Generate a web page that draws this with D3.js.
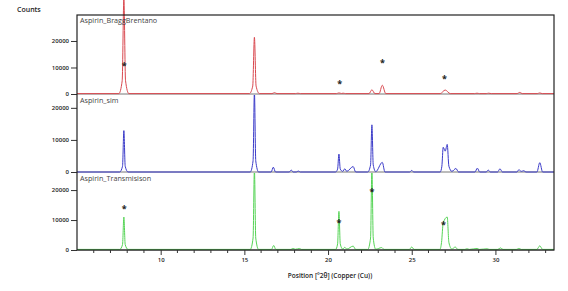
<!DOCTYPE html>
<html>
<head>
<meta charset="utf-8">
<script src="https://cdn.jsdelivr.net/npm/d3@7"></script>
<style>
  body { margin: 0; background: #fff; }
  svg { display: block; font-family: "Open Sans", "Noto Sans", sans-serif; }
</style>
</head>
<body>
<svg id="chart" width="568" height="291"></svg>
<script>
// 2theta / counts pairs (peak tops with their feet)
const braggBrentano = [
  [5, 150], [7.5, 150], [7.7, 5000], [7.8, 36000], [7.9, 5000], [8.1, 150],
  [15.3, 150], [15.5, 3000], [15.6, 21400], [15.7, 3000], [15.9, 150],
  [16.65, 150], [16.8, 500], [16.95, 150], [18.05, 150], [18.2, 300], [18.35, 150],
  [20.5, 150], [20.65, 400], [20.8, 200], [20.9, 300], [21.05, 150],
  [22.45, 150], [22.62, 1600], [22.8, 150], [23.05, 150], [23.24, 3300], [23.45, 150],
  [26.7, 150], [27.0, 1500], [27.3, 150], [28.75, 150], [28.9, 300], [29.05, 150],
  [29.45, 150], [29.6, 300], [29.75, 150], [31.3, 150], [31.45, 600], [31.6, 150],
  [32.5, 150], [32.65, 400], [32.8, 150], [33.5, 150]
];
const simulated = [
  [5, 0], [7.55, 0], [7.72, 1800], [7.8, 12900], [7.88, 1800], [8.05, 0],
  [15.35, 0], [15.52, 3500], [15.6, 25000], [15.68, 3500], [15.85, 0],
  [16.6, 0], [16.73, 1500], [16.86, 0], [17.68, 0], [17.8, 600], [17.92, 0], [18.1, 0], [18.22, 300], [18.34, 0],
  [20.45, 0], [20.57, 900], [20.65, 5600], [20.73, 900], [20.88, 200], [21.0, 1000], [21.12, 200], [21.5, 1700], [21.65, 0],
  [22.37, 0], [22.54, 2200], [22.62, 14700], [22.7, 2200], [22.85, 100], [23.24, 3000], [23.4, 0],
  [24.88, 0], [25.0, 500], [25.12, 0], [26.7, 0], [26.8, 1800], [26.88, 7700], [27.0, 6500], [27.12, 8600], [27.22, 1800], [27.4, 200],
  [27.64, 1100], [27.8, 0], [28.78, 0], [28.92, 1200], [29.06, 0], [29.45, 0], [29.57, 600], [29.7, 0],
  [30.13, 0], [30.27, 1000], [30.42, 0], [31.28, 0], [31.4, 700], [31.55, 200], [31.7, 400], [31.82, 0],
  [32.48, 0], [32.65, 2900], [32.82, 0], [33.5, 0]
];
const transmission = [
  [5, 200], [7.55, 200], [7.72, 1800], [7.8, 11000], [7.88, 1800], [8.05, 200],
  [15.35, 200], [15.52, 4000], [15.6, 27000], [15.68, 4000], [15.85, 200],
  [16.62, 200], [16.75, 1500], [16.88, 200], [17.78, 200], [17.9, 500], [18.05, 250], [18.3, 500], [18.42, 200],
  [20.45, 200], [20.57, 2000], [20.65, 12900], [20.73, 2000], [20.88, 300], [21.0, 900], [21.12, 300], [21.5, 1300], [21.65, 200],
  [22.37, 200], [22.54, 4000], [22.62, 27000], [22.7, 4000], [22.85, 250], [23.2, 800], [23.35, 200],
  [24.86, 200], [25.0, 1000], [25.14, 200], [26.68, 200], [26.78, 2500], [26.88, 9000], [27.12, 11000], [27.22, 2500], [27.4, 300],
  [27.6, 1000], [27.75, 200], [28.17, 200], [28.3, 400], [28.45, 200], [28.9, 500], [29.05, 200], [29.5, 400], [29.65, 200],
  [30.15, 200], [30.3, 700], [30.45, 200], [31.25, 200], [31.4, 500], [31.55, 200],
  [32.48, 200], [32.65, 1400], [32.82, 200], [33.5, 200]
];

const seriesNames = ["Aspirin_BraggBrentano", "Aspirin_sim", "Aspirin_Transmisison"];
const seriesColors = ["#d9484f", "#3b3bc9", "#55d455"];
const seriesData = [braggBrentano, simulated, transmission];
const yMax = [29800, 24000, 25700];
const yTicks = [0, 10000, 20000];

// asterisk marks (2theta, counts) in the first and last panel
const starsTop = [[7.82, 11300], [20.7, 4500], [23.25, 12450], [26.95, 6400]];
const starsBottom = [[7.82, 14400], [20.65, 9800], [22.62, 20100], [26.9, 9100]];
const starsByPanel = [starsTop, [], starsBottom];

const xMajor = [10, 15, 20, 25, 30];
const xMinor = [6, 7, 8, 9, 11, 12, 13, 14, 16, 17, 18, 19, 21, 22, 23, 24, 26, 27, 28, 29, 31, 32, 33];

const svg = d3.select("#chart");
const plotLeft = 77, plotRight = 554, plotTop = 15;
const panelBottoms = [94, 172, 250];
const panelTops = [15, 95, 173];

const x = d3.scaleLinear().domain([5, 33.5]).range([plotLeft, plotRight]);

svg.append("text")
  .attr("x", 17).attr("y", 12)
  .style("font-size", "7px").style("font-weight", 600).attr("fill", "#222")
  .text("Counts");

seriesData.forEach((data, i) => {
  const y = d3.scaleLinear().domain([0, yMax[i]]).range([panelBottoms[i], panelTops[i]]);
  const g = svg.append("g");

  if (i > 0) {
    svg.append("clipPath").attr("id", "clip" + i)
      .append("rect")
      .attr("x", plotLeft).attr("y", panelTops[i])
      .attr("width", plotRight - plotLeft).attr("height", panelBottoms[i] - panelTops[i] + 2);
  }

  g.append("line")
    .attr("x1", plotLeft).attr("x2", plotRight)
    .attr("y1", y(0)).attr("y2", y(0))
    .attr("stroke", "#777").attr("stroke-width", 1);

  const line = d3.line()
    .x(d => x(d[0]))
    .y(d => y(d[1]))
    .curve(d3.curveMonotoneX);

  g.append("path")
    .datum(data)
    .attr("fill", "none")
    .attr("stroke", seriesColors[i])
    .attr("stroke-width", 1)
    .attr("clip-path", i > 0 ? "url(#clip" + i + ")" : null)
    .attr("d", line);

  g.append("text")
    .attr("x", plotLeft + 3).attr("y", panelTops[i] + 8)
    .style("font-size", "7.2px").attr("fill", "#444")
    .text(seriesNames[i]);

  g.selectAll(".star")
    .data(starsByPanel[i])
    .enter().append("text")
    .attr("x", d => x(d[0]))
    .attr("y", d => y(d[1]) + 5)
    .attr("text-anchor", "middle")
    .style("font-size", "9px").style("font-weight", 700)
    .attr("fill", "#222")
    .text("*");

  const ax = svg.append("g")
    .attr("transform", "translate(" + plotLeft + ",0)")
    .call(d3.axisLeft(y).tickValues(yTicks).tickSize(6).tickPadding(2).tickFormat(d3.format("d")));
  ax.select(".domain").remove();
  ax.selectAll("line").attr("stroke", "#333");
  ax.selectAll("text")
    .style("font-size", "6px").style("font-weight", 600)
    .style("font-family", "'Open Sans', sans-serif").attr("fill", "#222");
});

// frame
svg.append("rect")
  .attr("x", plotLeft).attr("y", plotTop)
  .attr("width", plotRight - plotLeft).attr("height", panelBottoms[2] - plotTop)
  .attr("fill", "none").attr("stroke", "#222").attr("stroke-width", 1.2);

const xAxis = svg.append("g")
  .attr("transform", "translate(0," + panelBottoms[2] + ")")
  .call(d3.axisBottom(x).tickValues(xMajor).tickSize(5).tickPadding(3));
xAxis.select(".domain").remove();
xAxis.selectAll("line").attr("stroke", "#333");
xAxis.selectAll("text")
  .style("font-size", "6px").style("font-weight", 600)
  .style("font-family", "'Open Sans', sans-serif").attr("fill", "#222");

svg.append("g")
  .selectAll("line")
  .data(xMinor)
  .enter().append("line")
  .attr("x1", d => x(d)).attr("x2", d => x(d))
  .attr("y1", panelBottoms[2]).attr("y2", panelBottoms[2] + 3)
  .attr("stroke", "#333");

svg.append("text")
  .attr("x", 330).attr("y", 278)
  .attr("text-anchor", "middle")
  .style("font-size", "6.5px").style("font-weight", 600).attr("fill", "#222")
  .text("Position [°2θ] (Copper (Cu))");
</script>
</body>
</html>
